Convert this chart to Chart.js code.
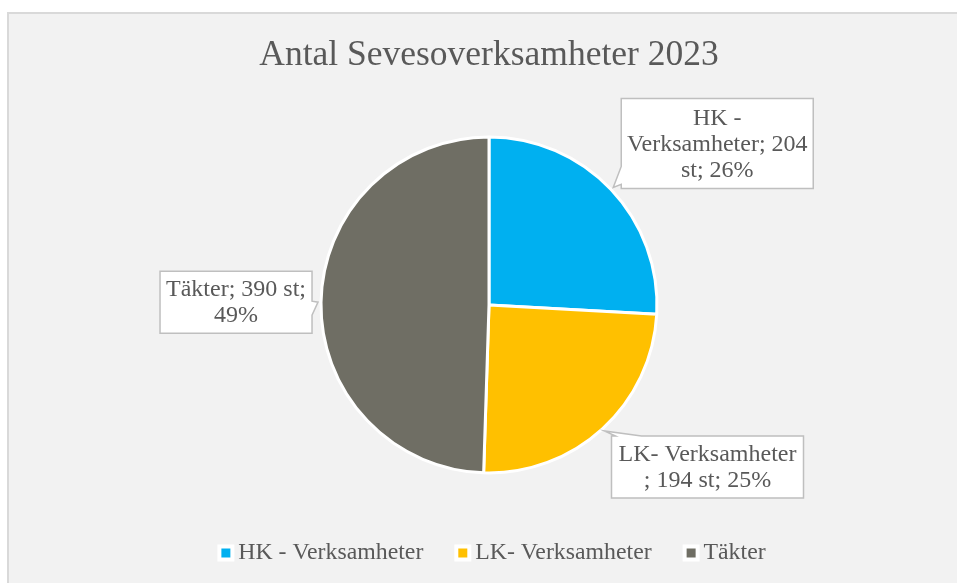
<!DOCTYPE html>
<html>
<head>
<meta charset="utf-8">
<script src="https://cdn.jsdelivr.net/npm/chart.js@4/dist/chart.umd.min.js"></script>
<style>
  html, body { margin: 0; padding: 0; background: #ffffff; }
  #panel {
    position: absolute; left: 7px; top: 12px; width: 960px; height: 580px;
    background: #f2f2f2; border: 2px solid #d9d9d9;
  }
  #wrap { position: absolute; left: 0; top: 0; width: 957px; height: 583px; }
</style>
</head>
<body>
<div id="panel"></div>
<div id="wrap"><canvas id="chart"></canvas></div>
<script>
const title = "Antal Sevesoverksamheter 2023";
const categories = ["HK - Verksamheter", "LK- Verksamheter", "Täkter"];
const values = [204, 194, 390];
const percents = [26, 25, 49];
const colors = ["#00b0f0", "#ffc000", "#6f6e64"];
// callout text, split the way the reference wraps it
const calloutLines = [
  ["HK -", "Verksamheter; 204", "st; 26%"],
  ["LK- Verksamheter", "; 194 st; 25%"],
  ["Täkter; 390 st;", "49%"],
];

const FONT = "'Liberation Serif', 'Times New Roman', serif";
const TEXT = "#595959";
Chart.defaults.font.family = FONT;
Chart.defaults.color = TEXT;

// box placement relative to the point on the slice edge (w, h, dx, dy of box top-left)
const calloutBoxes = [
  { w: 192, h: 90, dx: 8, dy: -89, side: "left" },
  { w: 192, h: 62, dx: 7, dy: 5, side: "top" },
  { w: 152, h: 62, dx: -158, dy: -31, side: "right" },
];

const calloutPlugin = {
  id: "callouts",
  afterLayout(chart) {
    // nudge the legend row a little to the right, like the original
    chart.legend.left += 13;
  },
  afterDatasetsDraw(chart) {
    const ctx = chart.ctx;
    const meta = chart.getDatasetMeta(0);
    meta.data.forEach((arc, i) => {
      const p = arc.getProps(["x", "y", "startAngle", "endAngle", "outerRadius"], true);
      const mid = (p.startAngle + p.endAngle) / 2;
      const tx = p.x + Math.cos(mid) * (p.outerRadius + 3);
      const ty = p.y + Math.sin(mid) * (p.outerRadius + 3);
      const b = calloutBoxes[i];
      const bx = tx + b.dx, by = ty + b.dy;

      ctx.save();
      ctx.beginPath();
      ctx.moveTo(bx, by);
      if (b.side === "top") {
        ctx.lineTo(bx + 4, by);
        ctx.lineTo(tx, ty);
        ctx.lineTo(bx + 30, by);
      }
      ctx.lineTo(bx + b.w, by);
      if (b.side === "right") {
        ctx.lineTo(bx + b.w, by + 30);
        ctx.lineTo(tx, ty);
        ctx.lineTo(bx + b.w, by + 44);
      }
      ctx.lineTo(bx + b.w, by + b.h);
      ctx.lineTo(bx, by + b.h);
      if (b.side === "left") {
        ctx.lineTo(bx, by + b.h - 4);
        ctx.lineTo(tx, ty);
        ctx.lineTo(bx, by + b.h - 22);
      }
      ctx.closePath();
      ctx.fillStyle = "#ffffff";
      ctx.fill();
      ctx.strokeStyle = "#bfbfbf";
      ctx.lineWidth = 1.5;
      ctx.stroke();

      ctx.fillStyle = TEXT;
      ctx.font = "24px " + FONT;
      ctx.textAlign = "center";
      ctx.textBaseline = "middle";
      const lines = calloutLines[i];
      const lh = 26;
      const cy = by + b.h / 2 - ((lines.length - 1) * lh) / 2 + 1;
      lines.forEach((t, k) => ctx.fillText(t, bx + b.w / 2, cy + k * lh));
      ctx.restore();
    });
  },
};

new Chart(document.getElementById("chart"), {
  type: "pie",
  data: {
    labels: categories,
    datasets: [
      {
        data: values,
        backgroundColor: colors,
        borderColor: "#ffffff",
        borderWidth: 3,
        radius: 168,
      },
    ],
  },
  options: {
    responsive: true,
    maintainAspectRatio: false,
    animation: false,
    layout: { padding: { left: 21, right: 0, top: 0, bottom: 8 } },
    plugins: {
      title: {
        display: true,
        text: title,
        color: TEXT,
        font: { family: FONT, size: 35.5, weight: "normal" },
        padding: { top: 34, bottom: 31 },
      },
      legend: {
        display: true,
        position: "bottom",
        labels: {
          color: TEXT,
          font: { family: FONT, size: 23.8, weight: "normal" },
          usePointStyle: true,
          boxWidth: 1,
          boxHeight: 13,
          padding: 39,
          generateLabels(chart) {
            return categories.map((c, i) => ({
              text: c,
              fillStyle: colors[i],
              strokeStyle: "#ffffff",
              lineWidth: 4,
              pointStyle: "rect",
              fontColor: TEXT,
              index: i,
            }));
          },
        },
      },
      tooltip: { enabled: false },
    },
  },
  plugins: [calloutPlugin],
});
</script>
</body>
</html>
